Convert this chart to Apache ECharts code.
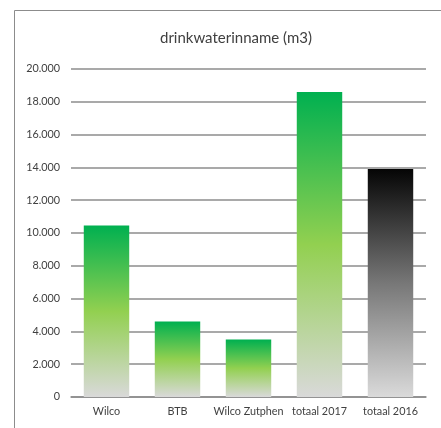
<!DOCTYPE html>
<html><head><meta charset="utf-8">
<script src="https://cdn.jsdelivr.net/npm/echarts@6/dist/echarts.min.js"></script>
<style>html,body{margin:0;padding:0;background:#fff}#c{width:441px;height:428px}</style>
</head><body><div id="c"></div>
<script>
const categories = ['Wilco', 'BTB', 'Wilco Zutphen', 'totaal 2017', 'totaal 2016'];
const values = [10450, 4600, 3500, 18600, 13900];
const yTicks = [0, 2000, 4000, 6000, 8000, 10000, 12000, 14000, 16000, 18000, 20000];

const greenGrad = new echarts.graphic.LinearGradient(0, 0, 0, 1, [
  {offset: 0, color: '#00b050'}, {offset: 0.5, color: '#92d050'}, {offset: 1, color: '#d9d9d9'}]);
const blackGrad = new echarts.graphic.LinearGradient(0, 0, 0, 1, [
  {offset: 0, color: '#050505'}, {offset: 0.5, color: '#777777'}, {offset: 1, color: '#dadada'}]);

const chart = echarts.init(document.getElementById('c'));
const font = 'Lato, "Open Sans", sans-serif';
chart.setOption({
  animation: false,
  graphic: [{type: 'rect', shape: {x: 14.5, y: 10.5, width: 440, height: 430}, style: {fill: 'none', stroke: '#8c8c8c', lineWidth: 1}, silent: true}],
  title: {text: 'drinkwaterinname (m3)', left: 231, top: 26, textAlign: 'center',
    textStyle: {fontFamily: font, fontSize: 15, fontWeight: 'normal', color: '#404040'}},
  grid: {left: 71, right: 15, top: 69, bottom: 31},
  xAxis: {type: 'category', data: categories,
    axisLine: {lineStyle: {color: '#8c8c8c', width: 1.5}}, axisTick: {show: false},
    axisLabel: {fontFamily: font, fontSize: 10.8, color: '#404040', margin: 9, interval: 0}},
  yAxis: {type: 'value', min: yTicks[0], max: yTicks[yTicks.length - 1], interval: 2000,
    axisLine: {show: false}, axisTick: {show: false},
    splitLine: {lineStyle: {color: '#8c8c8c', width: 1.5}},
    axisLabel: {fontFamily: font, fontSize: 10.8, color: '#404040', margin: 11,
      formatter: v => v === 0 ? '0' : (v / 1000).toFixed(3)}},
  series: [{type: 'bar', barCategoryGap: '36%',
    data: values.map((v, i) => ({value: v, itemStyle: {color: i === 4 ? blackGrad : greenGrad}}))}]
});
</script></body></html>
